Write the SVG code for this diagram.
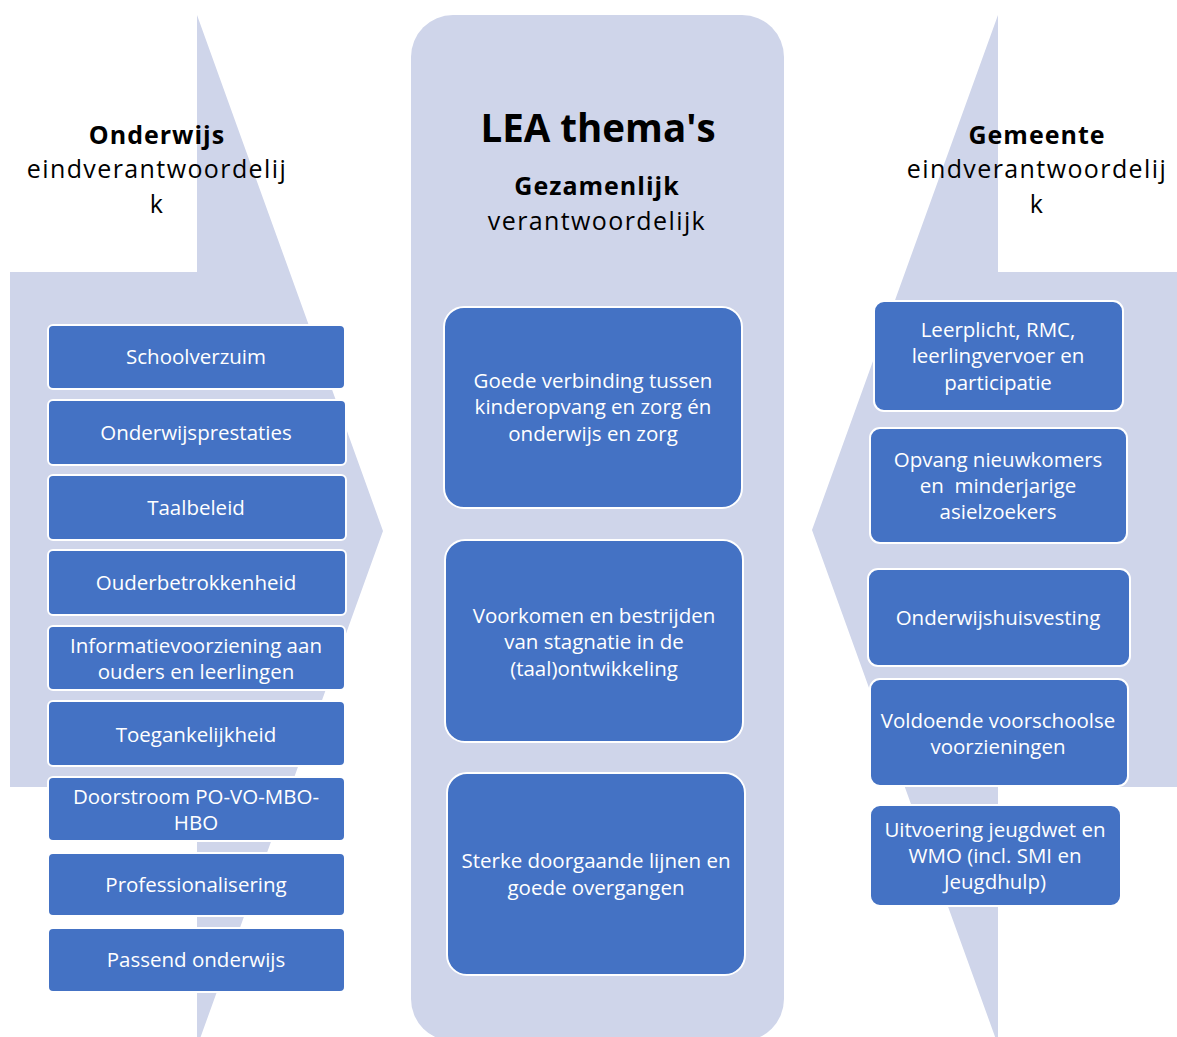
<svg xmlns="http://www.w3.org/2000/svg" width="1177" height="1037" viewBox="0 0 1177 1037">
<style>
.bg{fill:#CFD5EA}
.box{fill:#4472C4;stroke:#FFFFFF;stroke-width:2}
.t{font-family:"Open Sans","Noto Sans","Liberation Sans",sans-serif;font-size:20.5px;fill:#FFFFFF;text-anchor:middle}
.h{font-family:"Open Sans","Noto Sans","Liberation Sans",sans-serif;font-size:25px;letter-spacing:1.4px;fill:#000000;text-anchor:middle}
.b{font-weight:bold;letter-spacing:1px}
.title{font-size:38.5px;letter-spacing:0}
</style>
<rect width="1177" height="1037" fill="#FFFFFF"/>
<g id="left-arrow">
<polygon class="bg" points="10,272 197,272 197,15 383,531 197,1047 197,787 10,787"/>
<text class="h" x="157" y="144"><tspan class="b" x="157">Onderwijs</tspan><tspan x="157" y="178">eindverantwoordelij</tspan><tspan x="157" y="213">k</tspan></text>
</g>
<g id="right-arrow">
<polygon class="bg" points="1177,272 998,272 998,15 812,530 998,1045 998,787 1177,787"/>
<text class="h" x="1037" y="144"><tspan class="b" x="1037">Gemeente</tspan><tspan x="1037" y="178">eindverantwoordelij</tspan><tspan x="1037" y="213">k</tspan></text>
</g>
<g id="center-panel">
<rect class="bg" x="411" y="15" width="373" height="1026" rx="42"/>
<text class="h b title" x="598" y="142">LEA thema's</text>
<text class="h" x="597" y="195"><tspan class="b" x="597">Gezamenlijk</tspan><tspan x="597" y="230">verantwoordelijk</tspan></text>
</g>
<g id="l1"><rect class="box" x="48" y="325" width="297" height="64" rx="5"/><text class="t" x="196" y="364">Schoolverzuim</text></g>
<g id="l2"><rect class="box" x="48" y="400" width="298" height="65" rx="5"/><text class="t" x="196" y="440">Onderwijsprestaties</text></g>
<g id="l3"><rect class="box" x="48" y="475" width="298" height="65" rx="5"/><text class="t" x="196" y="515">Taalbeleid</text></g>
<g id="l4"><rect class="box" x="48" y="550" width="298" height="65" rx="5"/><text class="t" x="196" y="590">Ouderbetrokkenheid</text></g>
<g id="l5"><rect class="box" x="48" y="626" width="297" height="64" rx="5"/><text class="t" x="196" y="653"><tspan x="196">Informatievoorziening aan</tspan><tspan x="196" y="679">ouders en leerlingen</tspan></text></g>
<g id="l6"><rect class="box" x="48" y="701" width="297" height="65" rx="5"/><text class="t" x="196" y="742">Toegankelijkheid</text></g>
<g id="l7"><rect class="box" x="48" y="777" width="297" height="64" rx="5"/><text class="t" x="196" y="804"><tspan x="196">Doorstroom PO-VO-MBO-</tspan><tspan x="196" y="830">HBO</tspan></text></g>
<g id="l8"><rect class="box" x="48" y="853" width="297" height="63" rx="5"/><text class="t" x="196" y="892">Professionalisering</text></g>
<g id="l9"><rect class="box" x="48" y="928" width="297" height="64" rx="5"/><text class="t" x="196" y="967">Passend onderwijs</text></g>
<g id="c1"><rect class="box" x="444" y="307" width="298" height="201" rx="20"/><text class="t" x="593" y="388"><tspan x="593">Goede verbinding tussen</tspan><tspan x="593" y="414">kinderopvang en zorg én</tspan><tspan x="593" y="441">onderwijs en zorg</tspan></text></g>
<g id="c2"><rect class="box" x="445" y="540" width="298" height="202" rx="20"/><text class="t" x="594" y="623"><tspan x="594">Voorkomen en bestrijden</tspan><tspan x="594" y="649">van stagnatie in de</tspan><tspan x="594" y="676">(taal)ontwikkeling</tspan></text></g>
<g id="c3"><rect class="box" x="447" y="773" width="298" height="202" rx="20"/><text class="t" x="596" y="868"><tspan x="596">Sterke doorgaande lijnen en</tspan><tspan x="596" y="895">goede overgangen</tspan></text></g>
<g id="r1"><rect class="box" x="874" y="301" width="249" height="110" rx="10"/><text class="t" x="998" y="337"><tspan x="998">Leerplicht, RMC,</tspan><tspan x="998" y="363">leerlingvervoer en</tspan><tspan x="998" y="390">participatie</tspan></text></g>
<g id="r2"><rect class="box" x="870" y="428" width="257" height="115" rx="10"/><text class="t" x="998" y="467"><tspan x="998">Opvang nieuwkomers</tspan><tspan x="998" y="493" xml:space="preserve">en  minderjarige</tspan><tspan x="998" y="519">asielzoekers</tspan></text></g>
<g id="r3"><rect class="box" x="868" y="569" width="262" height="97" rx="10"/><text class="t" x="998" y="625">Onderwijshuisvesting</text></g>
<g id="r4"><rect class="box" x="870" y="679" width="258" height="107" rx="10"/><text class="t" x="998" y="728"><tspan x="998">Voldoende voorschoolse</tspan><tspan x="998" y="754">voorzieningen</tspan></text></g>
<g id="r5"><rect class="box" x="870" y="805" width="251" height="101" rx="10"/><text class="t" x="995" y="837"><tspan x="995">Uitvoering jeugdwet en</tspan><tspan x="995" y="863">WMO (incl. SMI en</tspan><tspan x="995" y="889">Jeugdhulp)</tspan></text></g>
<g id="connectors"></g>
</svg>
